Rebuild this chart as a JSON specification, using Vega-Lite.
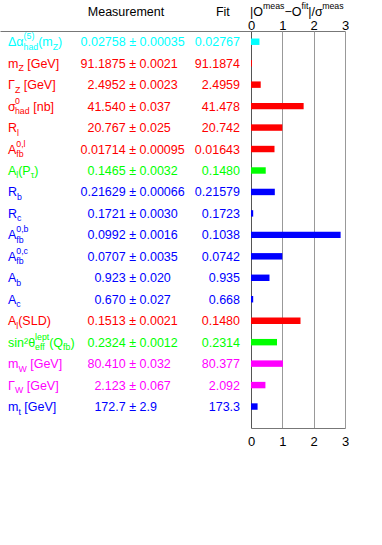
{
  "$schema": "https://vega.github.io/schema/vega-lite/v6.json",
  "padding": 0,
  "bounds": "flush",
  "spacing": 0,
  "columns": 2,
  "config": {
    "view": {"stroke": null},
    "text": {"font": "Liberation Sans", "fontSize": 12.5, "color": "black"},
    "axis": {"labelFont": "Liberation Sans"}
  },
  "datasets": {
    "rows": [
      {"name": "dalpha", "a": "Δα", "sp": "(5)", "sb": "had", "b": "(m", "bs": "Z", "c": ")", "v": "0.02758", "e": "± 0.00035", "fit": "0.02767", "pull": 0.27, "grp": "cyan"},
      {"name": "mZ", "a": "m", "sb": "Z", "b": "[GeV]", "v": "91.1875", "e": "± 0.0021", "fit": "91.1874", "pull": 0.03, "grp": "red"},
      {"name": "GZ", "a": "Γ", "sb": "Z", "b": "[GeV]", "v": "2.4952", "e": "± 0.0023", "fit": "2.4959", "pull": 0.31, "grp": "red"},
      {"name": "sigma", "a": "σ", "sp": "0", "sb": "had", "b": "[nb]", "v": "41.540", "e": "± 0.037", "fit": "41.478", "pull": 1.68, "grp": "red"},
      {"name": "Rl", "a": "R", "sb": "l", "v": "20.767", "e": "± 0.025", "fit": "20.742", "pull": 1.0, "grp": "red"},
      {"name": "Afbl", "a": "A", "sp": "0,l", "sb": "fb", "v": "0.01714", "e": "± 0.00095", "fit": "0.01643", "pull": 0.75, "grp": "red"},
      {"name": "Alpt", "a": "A", "sb": "l", "b": "(P", "bs": "τ", "c": ")", "v": "0.1465", "e": "± 0.0032", "fit": "0.1480", "pull": 0.47, "grp": "green"},
      {"name": "Rb", "a": "R", "sb": "b", "v": "0.21629", "e": "± 0.00066", "fit": "0.21579", "pull": 0.76, "grp": "blue"},
      {"name": "Rc", "a": "R", "sb": "c", "v": "0.1721", "e": "± 0.0030", "fit": "0.1723", "pull": 0.07, "grp": "blue"},
      {"name": "Afbb", "a": "A", "sp": "0,b", "sb": "fb", "v": "0.0992", "e": "± 0.0016", "fit": "0.1038", "pull": 2.86, "grp": "blue"},
      {"name": "Afbc", "a": "A", "sp": "0,c", "sb": "fb", "v": "0.0707", "e": "± 0.0035", "fit": "0.0742", "pull": 1.0, "grp": "blue"},
      {"name": "Ab", "a": "A", "sb": "b", "v": "0.923", "e": "± 0.020", "fit": "0.935", "pull": 0.59, "grp": "blue"},
      {"name": "Ac", "a": "A", "sb": "c", "v": "0.670", "e": "± 0.027", "fit": "0.668", "pull": 0.07, "grp": "blue"},
      {"name": "Alsld", "a": "A", "sb": "l", "b": "(SLD)", "v": "0.1513", "e": "± 0.0021", "fit": "0.1480", "pull": 1.58, "grp": "red"},
      {"name": "sin", "a": "sin²θ", "sp": "lept", "sb": "eff", "b": "(Q", "bs": "fb", "c": ")", "v": "0.2324", "e": "± 0.0012", "fit": "0.2314", "pull": 0.83, "grp": "green"},
      {"name": "mW", "a": "m", "sb": "W", "b": "[GeV]", "v": "80.410", "e": "± 0.032", "fit": "80.377", "pull": 1.02, "grp": "magenta"},
      {"name": "GW", "a": "Γ", "sb": "W", "b": "[GeV]", "v": "2.123", "e": "± 0.067", "fit": "2.092", "pull": 0.46, "grp": "magenta"},
      {"name": "mt", "a": "m", "sb": "t", "b": "[GeV]", "v": "172.7", "e": "± 2.9", "fit": "173.3", "pull": 0.21, "grp": "blue"}
    ]
  },
  "concat": [
    {
      "width": 251,
      "height": 31,
      "data": {"values": [{}]},
      "encoding": {"x": {"datum": 0, "type": "quantitative", "scale": {"domain": [0, 100], "nice": false}, "axis": null}},
      "layer": [
        {"mark": {"type": "text", "text": "Measurement", "align": "center", "baseline": "alphabetic"}, "encoding": {"x": {"datum": 50.2, "type": "quantitative"}}},
        {"mark": {"type": "text", "text": "Fit", "align": "center", "baseline": "alphabetic"}, "encoding": {"x": {"datum": 88.8, "type": "quantitative"}}}
      ]
    },
    {
      "width": 94,
      "height": 31,
      "data": {"values": [{}]},
      "encoding": {"x": {"datum": 0, "type": "quantitative", "scale": {"domain": [0, 3], "nice": false},
                         "axis": {"orient": "top", "offset": -31, "title": null, "values": [0, 0.5, 1, 1.5, 2, 2.5, 3], "format": "d",
                                  "labelExpr": "datum.value % 1 === 0 ? datum.label : ''",
                                  "labelFontSize": 13, "labelColor": "black", "labelFlush": false, "labelOverlap": false,
                                  "labelBaseline": "alphabetic", "labelPadding": 0,
                                  "tickSize": 2, "tickColor": "#777",
                                  "tickOpacity": {"condition": {"test": "datum.value % 1 === 0", "value": 0}, "value": 1},
                                  "grid": false, "domainColor": "#777"}}},
      "layer": [
        {"mark": {"type": "text", "text": "|O", "align": "left", "baseline": "alphabetic", "dx": -1}},
        {"mark": {"type": "text", "text": "meas", "align": "left", "baseline": "alphabetic", "dx": 12, "dy": -6.5, "fontSize": 8.75}},
        {"mark": {"type": "text", "text": "−O", "align": "left", "baseline": "alphabetic", "dx": 33.5}},
        {"mark": {"type": "text", "text": "fit", "align": "left", "baseline": "alphabetic", "dx": 50.5, "dy": -6.5, "fontSize": 8.75}},
        {"mark": {"type": "text", "text": "|/σ", "align": "left", "baseline": "alphabetic", "dx": 57.3}},
        {"mark": {"type": "text", "text": "meas", "align": "left", "baseline": "alphabetic", "dx": 71.2, "dy": -6.5, "fontSize": 8.75}}
      ]
    },
    {
      "width": 251,
      "height": 397,
      "data": {"name": "rows"},
      "encoding": {
        "y": {"field": "name", "type": "nominal", "axis": null, "bandPosition": 0.5,
              "scale": {"type": "band", "domain": ["dalpha", "mZ", "GZ", "sigma", "Rl", "Afbl", "Alpt", "Rb", "Rc", "Afbb", "Afbc", "Ab", "Ac", "Alsld", "sin", "mW", "GW", "mt"], "paddingInner": 0, "paddingOuter": 0.25, "align": 0}},
        "color": {"field": "grp", "type": "nominal", "legend": null,
                  "scale": {"domain": ["cyan", "red", "green", "blue", "magenta"], "range": ["#00ffff", "#ff0000", "#00ff00", "#0000ff", "#ff00ff"]}}
      },
      "layer": [
        {"mark": {"type": "text", "align": "left", "baseline": "alphabetic", "dy": 4.5},
         "encoding": {"x": {"datum": 3.19, "type": "quantitative", "scale": {"domain": [0, 100], "nice": false},
                            "axis": {"orient": "top", "labels": false, "ticks": false, "grid": false, "title": null, "domainColor": "#777", "domainWidth": 1}},
                      "text": {"field": "a"}}},

        {"transform": [{"filter": "datum.a === 'Δα'"}], "mark": {"type": "text", "align": "left", "baseline": "alphabetic", "dx": 15.6, "dy": 8, "fontSize": 8.75}, "encoding": {"x": {"datum": 3.19, "type": "quantitative"}, "text": {"field": "sb"}}},
        {"transform": [{"filter": "datum.a === 'm'"}], "mark": {"type": "text", "align": "left", "baseline": "alphabetic", "dx": 10.4, "dy": 8, "fontSize": 8.75}, "encoding": {"x": {"datum": 3.19, "type": "quantitative"}, "text": {"field": "sb"}}},
        {"transform": [{"filter": "datum.a === 'Γ' || datum.a === 'σ'"}], "mark": {"type": "text", "align": "left", "baseline": "alphabetic", "dx": 7.0, "dy": 8, "fontSize": 8.75}, "encoding": {"x": {"datum": 3.19, "type": "quantitative"}, "text": {"field": "sb"}}},
        {"transform": [{"filter": "datum.a === 'R'"}], "mark": {"type": "text", "align": "left", "baseline": "alphabetic", "dx": 9.0, "dy": 8, "fontSize": 8.75}, "encoding": {"x": {"datum": 3.19, "type": "quantitative"}, "text": {"field": "sb"}}},
        {"transform": [{"filter": "datum.a === 'A'"}], "mark": {"type": "text", "align": "left", "baseline": "alphabetic", "dx": 8.3, "dy": 8, "fontSize": 8.75}, "encoding": {"x": {"datum": 3.19, "type": "quantitative"}, "text": {"field": "sb"}}},
        {"transform": [{"filter": "datum.a === 'sin²θ'"}], "mark": {"type": "text", "align": "left", "baseline": "alphabetic", "dx": 27.1, "dy": 8, "fontSize": 8.75}, "encoding": {"x": {"datum": 3.19, "type": "quantitative"}, "text": {"field": "sb"}}},

        {"transform": [{"filter": "datum.a === 'Δα'"}], "mark": {"type": "text", "align": "left", "baseline": "alphabetic", "dx": 15.6, "dy": -2.5, "fontSize": 8.75}, "encoding": {"x": {"datum": 3.19, "type": "quantitative"}, "text": {"field": "sp"}}},
        {"transform": [{"filter": "datum.a === 'σ'"}], "mark": {"type": "text", "align": "left", "baseline": "alphabetic", "dx": 7.0, "dy": -2.5, "fontSize": 8.75}, "encoding": {"x": {"datum": 3.19, "type": "quantitative"}, "text": {"field": "sp"}}},
        {"transform": [{"filter": "datum.a === 'A' && datum.sp"}], "mark": {"type": "text", "align": "left", "baseline": "alphabetic", "dx": 8.3, "dy": -2.5, "fontSize": 8.75}, "encoding": {"x": {"datum": 3.19, "type": "quantitative"}, "text": {"field": "sp"}}},
        {"transform": [{"filter": "datum.a === 'sin²θ'"}], "mark": {"type": "text", "align": "left", "baseline": "alphabetic", "dx": 27.1, "dy": -2.5, "fontSize": 8.75}, "encoding": {"x": {"datum": 3.19, "type": "quantitative"}, "text": {"field": "sp"}}},

        {"transform": [{"filter": "datum.name === 'dalpha'"}], "mark": {"type": "text", "align": "left", "baseline": "alphabetic", "dx": 30.2, "dy": 4.5}, "encoding": {"x": {"datum": 3.19, "type": "quantitative"}, "text": {"field": "b"}}},
        {"transform": [{"filter": "datum.name === 'mZ'"}], "mark": {"type": "text", "align": "left", "baseline": "alphabetic", "dx": 19.2, "dy": 4.5}, "encoding": {"x": {"datum": 3.19, "type": "quantitative"}, "text": {"field": "b"}}},
        {"transform": [{"filter": "datum.name === 'GZ'"}], "mark": {"type": "text", "align": "left", "baseline": "alphabetic", "dx": 15.7, "dy": 4.5}, "encoding": {"x": {"datum": 3.19, "type": "quantitative"}, "text": {"field": "b"}}},
        {"transform": [{"filter": "datum.name === 'sigma'"}], "mark": {"type": "text", "align": "left", "baseline": "alphabetic", "dx": 25.2, "dy": 4.5}, "encoding": {"x": {"datum": 3.19, "type": "quantitative"}, "text": {"field": "b"}}},
        {"transform": [{"filter": "datum.name === 'Alpt' || datum.name === 'Alsld'"}], "mark": {"type": "text", "align": "left", "baseline": "alphabetic", "dx": 10.2, "dy": 4.5}, "encoding": {"x": {"datum": 3.19, "type": "quantitative"}, "text": {"field": "b"}}},
        {"transform": [{"filter": "datum.name === 'sin'"}], "mark": {"type": "text", "align": "left", "baseline": "alphabetic", "dx": 41.2, "dy": 4.5}, "encoding": {"x": {"datum": 3.19, "type": "quantitative"}, "text": {"field": "b"}}},
        {"transform": [{"filter": "datum.name === 'mW'"}], "mark": {"type": "text", "align": "left", "baseline": "alphabetic", "dx": 22.2, "dy": 4.5}, "encoding": {"x": {"datum": 3.19, "type": "quantitative"}, "text": {"field": "b"}}},
        {"transform": [{"filter": "datum.name === 'GW'"}], "mark": {"type": "text", "align": "left", "baseline": "alphabetic", "dx": 18.7, "dy": 4.5}, "encoding": {"x": {"datum": 3.19, "type": "quantitative"}, "text": {"field": "b"}}},
        {"transform": [{"filter": "datum.name === 'mt'"}], "mark": {"type": "text", "align": "left", "baseline": "alphabetic", "dx": 16.3, "dy": 4.5}, "encoding": {"x": {"datum": 3.19, "type": "quantitative"}, "text": {"field": "b"}}},

        {"transform": [{"filter": "datum.name === 'dalpha'"}], "mark": {"type": "text", "align": "left", "baseline": "alphabetic", "dx": 44.8, "dy": 8, "fontSize": 8.75}, "encoding": {"x": {"datum": 3.19, "type": "quantitative"}, "text": {"field": "bs"}}},
        {"transform": [{"filter": "datum.name === 'Alpt'"}], "mark": {"type": "text", "align": "left", "baseline": "alphabetic", "dx": 22.7, "dy": 8, "fontSize": 8.75}, "encoding": {"x": {"datum": 3.19, "type": "quantitative"}, "text": {"field": "bs"}}},
        {"transform": [{"filter": "datum.name === 'sin'"}], "mark": {"type": "text", "align": "left", "baseline": "alphabetic", "dx": 55.1, "dy": 8, "fontSize": 8.75}, "encoding": {"x": {"datum": 3.19, "type": "quantitative"}, "text": {"field": "bs"}}},

        {"transform": [{"filter": "datum.name === 'dalpha'"}], "mark": {"type": "text", "align": "left", "baseline": "alphabetic", "dx": 50.1, "dy": 4.5}, "encoding": {"x": {"datum": 3.19, "type": "quantitative"}, "text": {"field": "c"}}},
        {"transform": [{"filter": "datum.name === 'Alpt'"}], "mark": {"type": "text", "align": "left", "baseline": "alphabetic", "dx": 26.2, "dy": 4.5}, "encoding": {"x": {"datum": 3.19, "type": "quantitative"}, "text": {"field": "c"}}},
        {"transform": [{"filter": "datum.name === 'sin'"}], "mark": {"type": "text", "align": "left", "baseline": "alphabetic", "dx": 62.4, "dy": 4.5}, "encoding": {"x": {"datum": 3.19, "type": "quantitative"}, "text": {"field": "c"}}},

        {"mark": {"type": "text", "align": "right", "baseline": "alphabetic", "dy": 4.5}, "encoding": {"x": {"datum": 50.08, "type": "quantitative"}, "text": {"field": "v"}}},
        {"mark": {"type": "text", "align": "left", "baseline": "alphabetic", "dy": 4.5}, "encoding": {"x": {"datum": 51.47, "type": "quantitative"}, "text": {"field": "e"}}},
        {"mark": {"type": "text", "align": "right", "baseline": "alphabetic", "dy": 4.5}, "encoding": {"x": {"datum": 95.62, "type": "quantitative"}, "text": {"field": "fit"}}}
      ]
    },
    {
      "width": 94,
      "height": 397,
      "data": {"name": "rows"},
      "mark": {"type": "bar", "height": {"band": 0.3}},
      "encoding": {
        "y": {"field": "name", "type": "nominal", "axis": null,
              "scale": {"type": "band", "domain": ["dalpha", "mZ", "GZ", "sigma", "Rl", "Afbl", "Alpt", "Rb", "Rc", "Afbb", "Afbc", "Ab", "Ac", "Alsld", "sin", "mW", "GW", "mt"], "paddingInner": 0, "paddingOuter": 0.25, "align": 0}},
        "x": {"field": "pull", "type": "quantitative", "scale": {"domain": [0, 3], "nice": false, "zero": true},
              "axis": {"orient": "bottom", "title": null, "values": [0, 0.5, 1, 1.5, 2, 2.5, 3], "format": "d",
                       "labelExpr": "datum.value % 1 === 0 ? datum.label : ''",
                       "labelFontSize": 13, "labelColor": "black", "labelFlush": false, "labelOverlap": false,
                       "labelBaseline": "alphabetic", "labelPadding": 20.5,
                       "tickSize": -3, "tickColor": "#777",
                       "tickOpacity": {"condition": {"test": "datum.value % 1 === 0", "value": 0}, "value": 1},
                       "grid": true,
                       "gridColor": {"condition": {"test": "datum.value === 0", "value": "#555"}, "value": "#999"},
                       "gridOpacity": {"condition": {"test": "datum.value % 1 !== 0", "value": 0}, "value": 1},
                       "domainColor": "#777"}},
        "color": {"field": "grp", "type": "nominal", "legend": null,
                  "scale": {"domain": ["cyan", "red", "green", "blue", "magenta"], "range": ["#00ffff", "#ff0000", "#00ff00", "#0000ff", "#ff00ff"]}}
      }
    }
  ]
}
